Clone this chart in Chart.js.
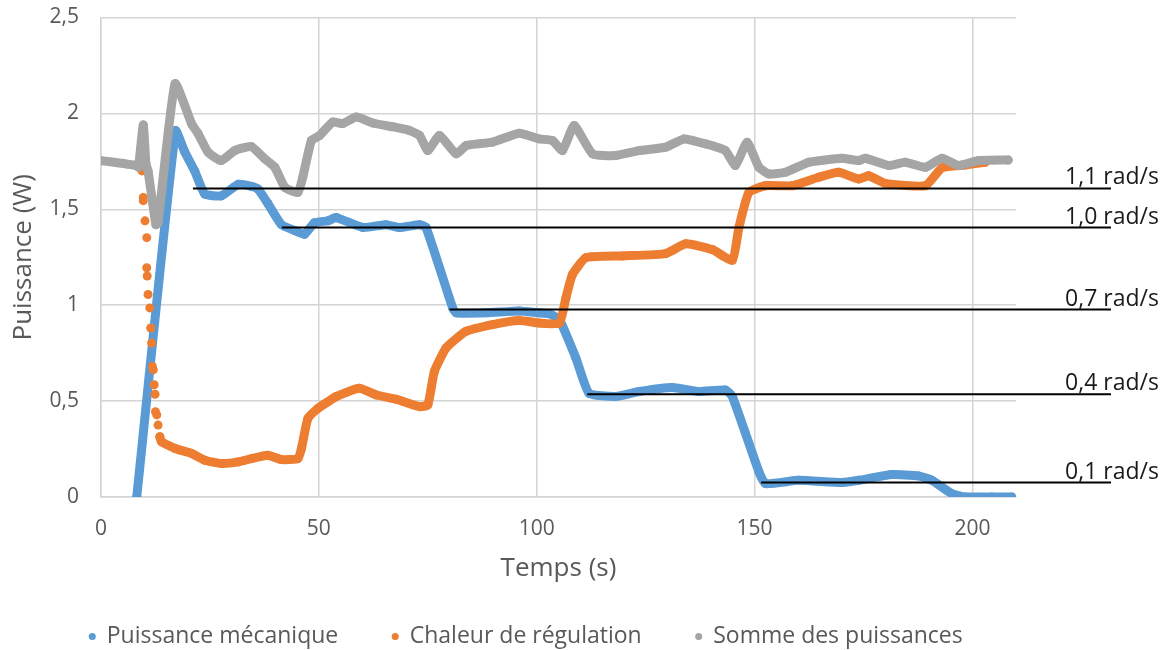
<!DOCTYPE html>
<html lang="fr">
<head>
<meta charset="utf-8">
<title>Puissances</title>
<script src="https://cdn.jsdelivr.net/npm/chart.js@4.4.1/dist/chart.umd.min.js"></script>
<style>
  html, body { margin: 0; padding: 0; background: #fff; }
  #wrap { width: 1172px; height: 650px; }
</style>
</head>
<body>
<div id="wrap"><canvas id="puissanceChart"></canvas></div>
<script>
// Puissance mécanique (bleu)
const mecaTemps = [8.2, 17.1, 19.2, 21.5, 23.8, 27.6, 31.5, 34.5, 36.0, 38.3, 41.4, 44.4, 46.7, 49.0, 52.1, 54.0, 60.1, 65.4, 68.5, 73.1, 74.6, 80.7, 81.5, 88.4, 96.0, 100.6, 102.9, 105.2, 109.0, 112.0, 118.1, 123.5, 131.1, 137.2, 143.3, 144.9, 151.0, 152.5, 160.1, 170.0, 173.9, 181.5, 187.6, 190.7, 195.3, 198.3, 204.4, 209.0];
const mecaVal   = [0, 1.91, 1.80, 1.70, 1.58, 1.57, 1.63, 1.62, 1.606, 1.53, 1.42, 1.39, 1.37, 1.43, 1.44, 1.457, 1.405, 1.42, 1.405, 1.42, 1.405, 0.986, 0.96, 0.96, 0.97, 0.96, 0.955, 0.925, 0.724, 0.541, 0.524, 0.55, 0.571, 0.55, 0.558, 0.524, 0.131, 0.07, 0.087, 0.075, 0.087, 0.117, 0.11, 0.087, 0.017, 0, 0, 0];

// Chaleur de régulation (orange) - points isolés au début puis tracé continu
const chaleurTemps = [9.4, 9.7, 9.7, 10.1, 10.5, 10.5, 10.6, 10.8, 11.2, 11.4, 11.6, 11.8, 12.0, 12.2, 12.4, 12.5, 12.8, 13.1, 13.5,
  13.9, 17.0, 20.8, 23.8, 27.6, 31.5, 34.5, 38.3, 41.4, 45.2, 46.0, 47.5, 49.8, 52.1, 54.0, 59.3, 63.2, 67.7, 73.1, 75.0, 76.5, 79.2, 83.8, 89.9, 96.0, 100.6, 105.2, 106.7, 108.2, 111.3, 119.7, 129.6, 134.2, 140.3, 144.9, 146.4, 148.7, 152.5, 158.6, 164.7, 169.3, 173.9, 176.2, 180.0, 189.2, 193.0, 198.3, 202.9];
const chaleurVal   = [1.70, 1.562, 1.545, 1.44, 1.352, 1.195, 1.152, 1.056, 0.986, 0.881, 0.803, 0.681, 0.663, 0.585, 0.536, 0.445, 0.428, 0.375, 0.314,
  0.288, 0.253, 0.227, 0.192, 0.175, 0.183, 0.20, 0.218, 0.195, 0.20, 0.253, 0.41, 0.462, 0.497, 0.524, 0.567, 0.532, 0.51, 0.471, 0.48, 0.654, 0.777, 0.864, 0.899, 0.92, 0.907, 0.907, 1.038, 1.16, 1.248, 1.257, 1.269, 1.32, 1.29, 1.234, 1.405, 1.588, 1.623, 1.623, 1.667, 1.693, 1.658, 1.675, 1.635, 1.623, 1.716, 1.731, 1.745];

// Somme des puissances (gris)
const sommeTemps = [0, 8.2, 8.6, 9.7, 10.3, 10.8, 12.6, 13.1, 17.0, 20.8, 22.3, 24.6, 27.6, 30.7, 34.5, 37.6, 39.9, 42.2, 45.2, 46.3, 48.3, 50.2, 53.2, 55.5, 58.6, 62.4, 67.0, 70.8, 73.1, 75.0, 77.7, 81.5, 83.8, 89.9, 96.0, 100.6, 103.6, 105.9, 108.6, 112.8, 118.1, 123.5, 129.6, 133.8, 138.8, 143.3, 145.6, 148.3, 151.0, 153.3, 157.1, 162.4, 170.0, 173.9, 175.4, 180.8, 184.6, 189.2, 193.0, 196.8, 201.4, 208.2];
const sommeVal   = [1.754, 1.728, 1.72, 1.94, 1.74, 1.70, 1.42, 1.43, 2.155, 1.946, 1.894, 1.797, 1.754, 1.806, 1.827, 1.763, 1.719, 1.614, 1.588, 1.667, 1.859, 1.885, 1.955, 1.947, 1.981, 1.95, 1.93, 1.911, 1.885, 1.806, 1.885, 1.789, 1.832, 1.85, 1.897, 1.867, 1.859, 1.806, 1.937, 1.789, 1.78, 1.806, 1.824, 1.867, 1.841, 1.806, 1.728, 1.85, 1.719, 1.684, 1.693, 1.745, 1.766, 1.754, 1.766, 1.728, 1.745, 1.719, 1.766, 1.728, 1.754, 1.757];

// Paliers de vitesse (traits noirs)
const paliersLabels = ['1,1 rad/s', '1,0 rad/s', '0,7 rad/s', '0,4 rad/s', '0,1 rad/s'];
const paliersVal    = [1.609, 1.405, 0.977, 0.536, 0.075];
const paliersDebut  = [21.1, 41.5, 80, 111.6, 151.5];
const paliersFin    = 231.8;

const xTicks = [0, 50, 100, 150, 200];
const yTicks = [0, 0.5, 1, 1.5, 2, 2.5];

const toPoints = (ts, vs) => ts.map((t, i) => ({ x: t, y: vs[i] }));

Chart.defaults.font.family = '"Open Sans", sans-serif';
Chart.defaults.color = '#595959';

const paliersPlugin = {
  id: 'paliers',
  afterDatasetsDraw(chart) {
    const { ctx, scales: { x, y } } = chart;
    ctx.save();
    ctx.strokeStyle = '#000';
    ctx.lineWidth = 2;
    ctx.font = '23px "Open Sans", sans-serif';
    ctx.fillStyle = '#1a1a1a';
    ctx.textAlign = 'right';
    ctx.textBaseline = 'alphabetic';
    const xEnd = x.getPixelForValue(paliersFin);
    paliersVal.forEach((v, i) => {
      const py = y.getPixelForValue(v);
      ctx.beginPath();
      ctx.moveTo(x.getPixelForValue(paliersDebut[i]), py);
      ctx.lineTo(xEnd, py);
      ctx.stroke();
      ctx.fillText(paliersLabels[i], xEnd + 48, py - 4);
    });
    ctx.restore();
  }
};

const serie = (label, color, data, order, extra) => Object.assign({
  label: label,
  data: data,
  borderColor: color,
  backgroundColor: color,
  borderWidth: 9,
  borderCapStyle: 'round',
  borderJoinStyle: 'round',
  tension: 0.15,
  pointRadius: 4.5,
  pointBorderWidth: 0,
  pointHoverRadius: 4.5,
  pointStyle: 'circle',
  showLine: true,
  order: order
}, extra || {});

new Chart(document.getElementById('puissanceChart'), {
  type: 'scatter',
  data: {
    datasets: [
      serie('Puissance mécanique', '#5B9BD5', toPoints(mecaTemps, mecaVal), 3),
      serie('Chaleur de régulation', '#ED7D31', toPoints(chaleurTemps, chaleurVal), 2, {
        // au début de l'enregistrement on ne voit que des points espacés
        segment: { borderColor: c => c.p1.parsed.x <= 13.5 ? 'rgba(0,0,0,0)' : undefined }
      }),
      serie('Somme des puissances', '#A5A5A5', toPoints(sommeTemps, sommeVal), 1)
    ]
  },
  options: {
    responsive: true,
    maintainAspectRatio: false,
    animation: false,
    layout: { padding: { top: 0, right: 120, bottom: -8, left: 0 } },
    plugins: {
      tooltip: { enabled: false },
      legend: {
        position: 'bottom',
        labels: {
          usePointStyle: true,
          boxWidth: 6,
          boxHeight: 5,
          padding: 54,
          font: { size: 23 },
          color: '#595959',
          sort: (a, b) => a.datasetIndex - b.datasetIndex,
          generateLabels: chart => Chart.defaults.plugins.legend.labels.generateLabels(chart)
            .map(l => Object.assign(l, { lineWidth: 0, strokeStyle: 'rgba(0,0,0,0)', pointStyle: 'circle' }))
        }
      }
    },
    scales: {
      x: {
        type: 'linear',
        min: 0,
        max: 210,
        afterBuildTicks: s => { s.ticks = xTicks.map(v => ({ value: v })); },
        afterFit: s => { s.height = 74; },
        grid: { color: '#d4d4d4', lineWidth: 1.5, drawTicks: false },
        border: { color: '#d4d4d4', width: 1.5 },
        ticks: { font: { size: 21 }, padding: 19, maxRotation: 0 },
        title: { display: true, text: 'Temps (s)', font: { size: 26 }, padding: { top: 0, bottom: -13 } }
      },
      y: {
        min: 0,
        max: 2.5,
        afterBuildTicks: s => { s.ticks = yTicks.map(v => ({ value: v })); },
        afterFit: s => { s.width = 101; s.paddingTop = 17.5; s.paddingBottom = 0; },
        grid: { color: '#d4d4d4', lineWidth: 1.5, drawTicks: false },
        border: { color: '#d4d4d4', width: 1.5 },
        ticks: { font: { size: 21 }, padding: 22, callback: v => String(v).replace('.', ',') },
        title: { display: true, text: 'Puissance (W)', font: { size: 26 }, padding: { top: 8, bottom: 0 } }
      },
      y2: {
        position: 'right',
        display: true,
        afterFit: s => { s.width = 36; s.paddingTop = 0; s.paddingBottom = 0; },
        grid: { display: false },
        border: { display: false },
        ticks: { display: false }
      }
    }
  },
  plugins: [paliersPlugin]
});
</script>
</body>
</html>
